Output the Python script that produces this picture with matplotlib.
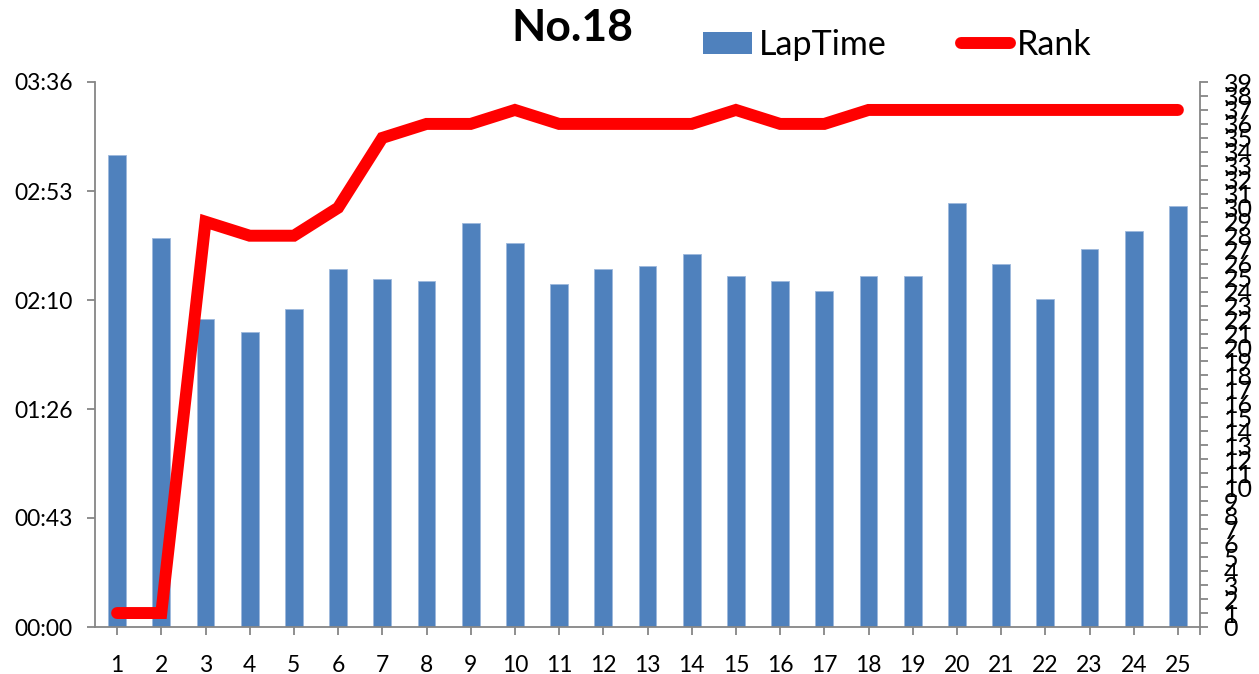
import matplotlib
matplotlib.use("Agg")
import matplotlib.pyplot as plt
from matplotlib.patches import Patch
from matplotlib.lines import Line2D

laps = list(range(1, 26))
lap_time_sec = [187, 154, 122, 117, 126, 142, 138, 137, 160, 152, 136, 142, 143,
                148, 139, 137, 133, 139, 139, 168, 144, 130, 150, 157, 167]
rank = [1, 1, 29, 28, 28, 30, 35, 36, 36, 37, 36, 36, 36, 36, 37, 36, 36,
        37, 37, 37, 37, 37, 37, 37, 37]
left_ticks = [0, 43.2, 86.4, 129.6, 172.8, 216]
left_labels = ["00:00", "00:43", "01:26", "02:10", "02:53", "03:36"]
right_ticks = list(range(0, 40))
title = "No.18"

FONT = "Lato"
plt.rcParams['font.family'] = [FONT, 'DejaVu Sans']

W, H = 1259, 674
fig = plt.figure(figsize=(W / 100, H / 100), dpi=100)
ax = fig.add_axes([95 / W, 1 - 627 / H, (1200 - 95) / W, (627 - 82) / H])
gray = "#868686"

ax.bar(laps, lap_time_sec, width=0.4, color="#4F81BD", edgecolor="#9DB8DC",
       linewidth=0.6, zorder=2)
ax.set_xlim(0.5, 25.5)
ax.set_ylim(0, 216)
ax.set_yticks(left_ticks)
ax.set_yticklabels(left_labels)
ax.set_xticks(laps)
ax.set_xticklabels([str(v) for v in laps])
ax.set_xticks([25.5], minor=True)

ax2 = ax.twinx()
ax2.plot(laps, rank, color="#FF0000", linewidth=8.6, solid_capstyle="round",
         solid_joinstyle="miter", zorder=3)
ax2.set_ylim(0, 39)
ax2.set_yticks(right_ticks)
ax2.set_yticklabels([str(v) for v in right_ticks])

for a in (ax, ax2):
    a.spines['top'].set_visible(False)
    for s in ('left', 'right', 'bottom'):
        a.spines[s].set_color(gray)
        a.spines[s].set_linewidth(1.3)
    a.tick_params(which='both', color=gray, length=6, width=1.3, labelsize=16.5,
                  labelcolor="black")
ax.spines['right'].set_visible(False)
ax2.spines['left'].set_visible(False)
ax2.spines['bottom'].set_visible(False)
ax.tick_params(axis='y', pad=10)
ax.tick_params(axis='x', pad=14)
ax2.tick_params(axis='y', pad=11, labelsize=18)

fig.text(572 / W, 1 - 28 / H, title, ha='center', va='center', fontsize=32,
         fontweight='bold')

handles = [Patch(facecolor="#4F81BD", edgecolor="none", label="LapTime"),
           Line2D([0], [0], color="#FF0000", linewidth=8.6,
                  solid_capstyle="round", label="Rank")]
fig.legend(handles=handles, loc='center left',
           bbox_to_anchor=(703 / W, 1 - 45 / H), ncol=2, frameon=False,
           fontsize=24.5, handlelength=1.44, handleheight=0.62,
           handletextpad=0.2, columnspacing=2.2, borderpad=0,
           borderaxespad=0)

fig.savefig("out.png", dpi=100)
